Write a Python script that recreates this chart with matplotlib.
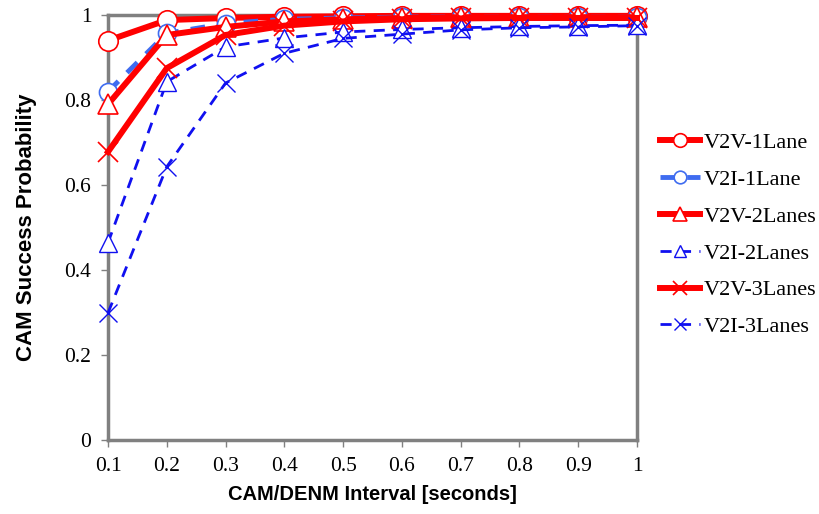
import matplotlib
matplotlib.use("Agg")
import matplotlib.pyplot as plt

x = [0.1, 0.2, 0.3, 0.4, 0.5, 0.6, 0.7, 0.8, 0.9, 1.0]
v2v_1lane = [0.94, 0.988, 0.993, 0.996, 0.997, 0.998, 0.998, 0.998, 0.998, 0.998]
v2i_1lane = [0.82, 0.957, 0.98, 0.99, 0.993, 0.995, 0.996, 0.996, 0.996, 0.996]
v2v_2lanes = [0.79, 0.953, 0.972, 0.985, 0.99, 0.993, 0.995, 0.995, 0.995, 0.995]
v2i_2lanes = [0.464, 0.843, 0.925, 0.946, 0.96, 0.966, 0.97, 0.973, 0.975, 0.976]
v2v_3lanes = [0.678, 0.875, 0.953, 0.975, 0.985, 0.99, 0.992, 0.993, 0.993, 0.993]
v2i_3lanes = [0.299, 0.643, 0.84, 0.91, 0.945, 0.955, 0.965, 0.97, 0.972, 0.975]
labels = ["V2V-1Lane", "V2I-1Lane", "V2V-2Lanes", "V2I-2Lanes", "V2V-3Lanes", "V2I-3Lanes"]
yticks = [0, 0.2, 0.4, 0.6, 0.8, 1]
ytick_labels = ["0", "0.2", "0.4", "0.6", "0.8", "1"]
xtick_labels = ["0.1", "0.2", "0.3", "0.4", "0.5", "0.6", "0.7", "0.8", "0.9", "1"]

fig = plt.figure(figsize=(8.19, 5.14), dpi=100)
ax = fig.add_axes([0.1319, 0.144, 0.6459, 0.8268])

red = "#ff0000"
blue1 = "#3f6cf0"
blue = "#1010f0"

common = dict(clip_on=False, zorder=3)
ax.plot(x, v2v_1lane, color=red, lw=4.3, marker="o", ms=14, mfc="white", mec=red, mew=1.2, label=labels[0], **common)
ax.plot(x, v2i_1lane, color=blue1, lw=3.5, ls=(0, (3, 2.5)), marker="o", ms=13, mfc="white", mec=blue1, mew=1.2, label=labels[1], **common)
ax.plot(x, v2v_2lanes, color=red, lw=4.3, marker="^", ms=14, mfc="white", mec=red, mew=1.2, label=labels[2], **common)
ax.plot(x, v2i_2lanes, color=blue, lw=2, ls=(0, (4, 3)), marker="^", ms=13, mfc="white", mec=blue, mew=1.0, label=labels[3], **common)
ax.plot(x, v2v_3lanes, color=red, lw=4.3, marker="x", ms=14, mec=red, mew=1.2, label=labels[4], **common)
ax.plot(x, v2i_3lanes, color=blue, lw=2, ls=(0, (4, 3)), marker="x", ms=13, mec=blue, mew=1.0, label=labels[5], **common)

ax.set_xlim(0.1, 1.0)
ax.set_ylim(0, 1)
ax.set_xticks(x)
ax.set_xticklabels(xtick_labels)
ax.set_yticks(yticks)
ax.set_yticklabels(ytick_labels)
for s in ax.spines.values():
    s.set_color("#808080")
    s.set_linewidth(2.5)
    s.set_zorder(2)
ax.tick_params(axis="both", direction="out", length=5, width=1, color="#808080",
               labelsize=15.5, pad=7)
for lab in ax.get_xticklabels() + ax.get_yticklabels():
    lab.set_family("Liberation Serif")

ax.set_xlabel("CAM/DENM Interval [seconds]", family="Liberation Sans", fontweight="bold", fontsize=14.5, labelpad=7)
ax.set_ylabel("CAM Success Probability", family="Liberation Sans", fontweight="bold", fontsize=16, labelpad=20)

leg = fig.legend(loc="center left", bbox_to_anchor=(0.795, 0.543), frameon=False,
                 prop={"family": "Liberation Serif", "size": 16},
                 handlelength=1.8, handletextpad=0.15, labelspacing=0.73, markerscale=0.7,
                 borderaxespad=0)

fig.savefig("out.png", dpi=100)
